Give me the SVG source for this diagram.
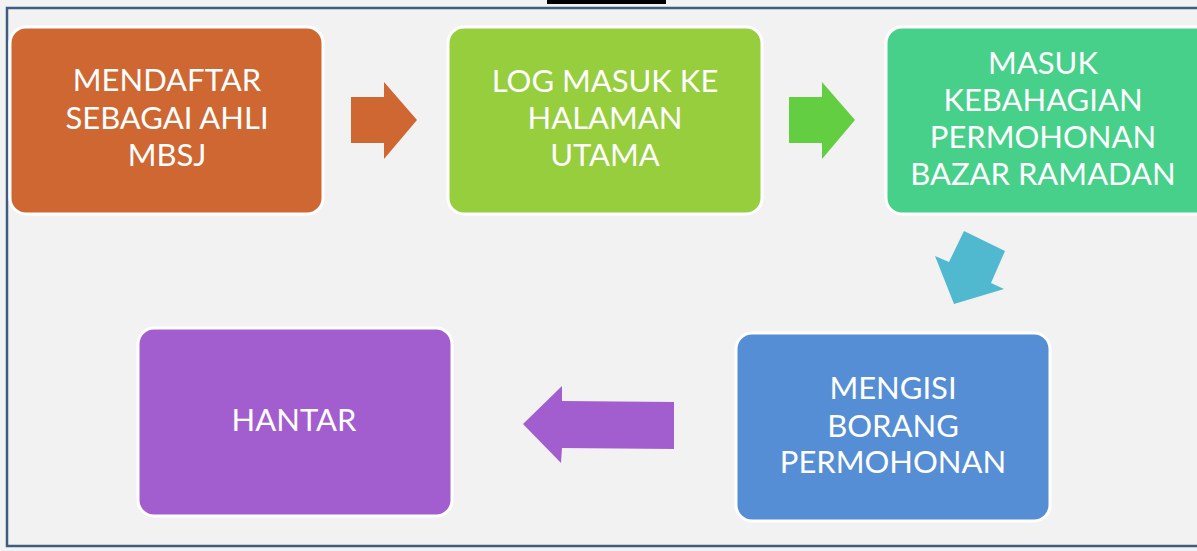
<svg xmlns="http://www.w3.org/2000/svg" width="1197" height="551" viewBox="0 0 1197 551">
<style>
.box{stroke:#ffffff;stroke-width:3}
.t{font-family:"Lato","Liberation Sans",sans-serif;font-size:31px;fill:#ffffff;text-anchor:middle}
</style>
<rect x="0" y="0" width="1197" height="551" fill="#f2f2f2"/>
<rect x="7" y="8" width="1200" height="538" fill="#f2f2f2" stroke="#3f5b7f" stroke-width="2.5"/>
<rect x="547" y="0" width="119" height="4" fill="#000000"/>
<g id="connectors">
<polygon points="351,97 384,97 384,82 417,120 384,159 384,143 351,143" fill="#cf6733"/>
<polygon points="789,97 822,97 822,82 855,120 822,159 822,143 789,143" fill="#64ce42"/>
<polygon points="964,231 1005,251 991,283 1004,289 954,304 935,256 949,262" fill="#50b9d0"/>
<polygon points="674,402 674,449 562,448 561,463 523,424 562,386 562,401" fill="#a25ece"/>
</g>
<g id="n1">
<rect class="box" x="10" y="27" width="313" height="187" rx="16" fill="#cf6733"/>
<text class="t" x="167" y="91">MENDAFTAR</text>
<text class="t" x="167" y="129">SEBAGAI AHLI</text>
<text class="t" x="167" y="166">MBSJ</text>
</g>
<g id="n2">
<rect class="box" x="448" y="27" width="314" height="187" rx="16" fill="#96ce3e"/>
<text class="t" x="605" y="92">LOG MASUK KE</text>
<text class="t" x="605" y="129">HALAMAN</text>
<text class="t" x="605" y="166">UTAMA</text>
</g>
<g id="n3">
<rect class="box" x="886" y="27" width="330" height="187" rx="16" fill="#47d08a"/>
<text class="t" x="1043" y="74">MASUK</text>
<text class="t" x="1043" y="111">KEBAHAGIAN</text>
<text class="t" x="1043" y="148">PERMOHONAN</text>
<text class="t" x="1043" y="185">BAZAR RAMADAN</text>
</g>
<g id="n4">
<rect class="box" x="736" y="333" width="314" height="188" rx="16" fill="#558ed5"/>
<text class="t" x="893" y="399">MENGISI</text>
<text class="t" x="893" y="437">BORANG</text>
<text class="t" x="893" y="473">PERMOHONAN</text>
</g>
<g id="n5">
<rect class="box" x="138" y="328" width="314" height="188" rx="16" fill="#a25ece"/>
<text class="t" x="294" y="431">HANTAR</text>
</g>
</svg>
